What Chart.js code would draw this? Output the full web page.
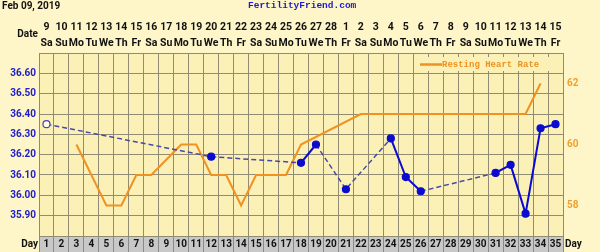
<!DOCTYPE html>
<html><head><meta charset="utf-8">
<script src="https://cdn.jsdelivr.net/npm/chart.js@4.4.1/dist/chart.umd.min.js"></script>
<style>html,body{margin:0;padding:0;background:#fef6c9;}#wrap{width:600px;height:252px;position:relative;}canvas{display:block;}</style>
</head><body><div id="wrap"><canvas id="c" width="600" height="252" style="width:600px;height:252px"></canvas></div>
<script>
const dayNumbers = ['1','2','3','4','5','6','7','8','9','10','11','12','13','14','15','16','17','18','19','20','21','22','23','24','25','26','27','28','29','30','31','32','33','34','35'];
const dates = ['9','10','11','12','13','14','15','16','17','18','19','20','21','22','23','24','25','26','27','28','1','2','3','4','5','6','7','8','9','10','11','12','13','14','15'];
const weekdays = ['Sa','Su','Mo','Tu','We','Th','Fr','Sa','Su','Mo','Tu','We','Th','Fr','Sa','Su','Mo','Tu','We','Th','Fr','Sa','Su','Mo','Tu','We','Th','Fr','Sa','Su','Mo','Tu','We','Th','Fr'];
const temperature = [36.35,null,null,null,null,null,null,null,null,null,null,36.19,null,null,null,null,null,36.16,36.25,null,36.03,null,null,36.28,36.09,36.02,null,null,null,null,36.11,36.15,35.91,36.33,36.35];
const restingHeartRate = [null,null,60,59,58,58,59,59,null,60,60,59,59,58,59,59,59,60,null,null,null,61,61,61,61,61,61,61,61,61,61,61,61,62,null];
const tempLabelTicks = [35.90,36.00,36.10,36.20,36.30,36.40,36.50,36.60];
const hrTicks = [58,60,62];
const chartTitle = 'Feb 09, 2019';
const siteName = 'FertilityFriend.com';
const legendLabel = 'Resting Heart Rate';

const OUTER_BG = '#fef6c9';
const PLOT_BG = '#fbf0b6';
const GRID = '#928b73';
const ORANGE = '#ef9222';
const BLUE = '#0a0ad0';
const NAVY = '#4a4aa6';

const decor = {
  id: 'decor',
  beforeDraw(chart) {
    const {ctx, chartArea: a} = chart;
    ctx.save();
    ctx.fillStyle = OUTER_BG;
    ctx.fillRect(0, 0, chart.width, chart.height);
    ctx.fillStyle = PLOT_BG;
    ctx.fillRect(a.left, a.top, a.right - a.left, a.bottom - a.top);
    ctx.fillStyle = '#c8c8c8';
    ctx.fillRect(a.left, a.bottom, a.right - a.left, chart.height - a.bottom);
    ctx.restore();
  },
  beforeDatasetsDraw(chart) {
    const {ctx, chartArea: a} = chart;
    ctx.save();
    const bx = a.right - 148, by = a.top + 4, bw = 142, bh = 14;
    ctx.fillStyle = PLOT_BG;
    ctx.fillRect(bx, by, bw, bh);
    ctx.strokeStyle = ORANGE;
    ctx.lineWidth = 2.5;
    ctx.beginPath();
    ctx.moveTo(bx + 5, by + 7.5);
    ctx.lineTo(bx + 27, by + 7.5);
    ctx.stroke();
    ctx.fillStyle = ORANGE;
    ctx.font = 'bold 9px "Liberation Mono"';
    ctx.textBaseline = 'middle';
    ctx.textAlign = 'left';
    ctx.fillText(legendLabel, bx + 27, by + 7.5);
    ctx.restore();
  },
  afterDraw(chart) {
    const {ctx, chartArea: a} = chart;
    ctx.save();
    ctx.textBaseline = 'middle';
    ctx.fillStyle = '#111';
    ctx.font = 'bold 10px Roboto';
    ctx.textAlign = 'left';
    ctx.fillText(chartTitle, 2, 6);
    ctx.fillStyle = '#1a1ad0';
    ctx.font = 'bold 9.5px "Liberation Mono"';
    ctx.fillText(siteName, 248, 6);
    ctx.fillStyle = '#111';
    ctx.font = 'bold 10px Roboto';
    ctx.textAlign = 'right';
    ctx.fillText('Date', 38, 34);
    ctx.fillText('Day', 38, 244);
    ctx.textAlign = 'left';
    ctx.fillText('Day', a.right + 2, 244);
    ctx.restore();
  }
};

const gapped = c => (c.p0.skip || c.p1.skip);

new Chart(document.getElementById('c'), {
  type: 'line',
  data: {
    labels: dayNumbers,
    datasets: [
      {
        label: 'Temperature',
        data: temperature,
        yAxisID: 'y',
        xAxisID: 'x',
        borderColor: BLUE,
        borderWidth: 2,
        spanGaps: true,
        tension: 0,
        pointRadius: 3.5,
        pointHoverRadius: 3.5,
        pointBorderWidth: 1.2,
        pointBackgroundColor: temperature.map((v, i) => i === 0 ? '#fffbe6' : BLUE),
        pointBorderColor: temperature.map((v, i) => i === 0 ? NAVY : BLUE),
        segment: {
          borderDash: c => gapped(c) ? [5, 3] : [],
          borderColor: c => gapped(c) ? NAVY : BLUE,
          borderWidth: c => gapped(c) ? 1.5 : 2
        }
      },
      {
        label: legendLabel,
        data: restingHeartRate,
        yAxisID: 'y2',
        xAxisID: 'x',
        borderColor: ORANGE,
        borderWidth: 2,
        spanGaps: true,
        tension: 0,
        pointRadius: 0,
        borderJoinStyle: 'miter'
      }
    ]
  },
  options: {
    responsive: false,
    animation: false,
    devicePixelRatio: 1,
    layout: {padding: 0},
    plugins: {legend: {display: false}, tooltip: {enabled: false}, title: {display: false}},
    scales: {
      x: {
        type: 'category',
        position: 'bottom',
        offset: true,
        grid: {offset: true, color: GRID, tickColor: '#8a8a8a', tickLength: 16, lineWidth: 1},
        border: {display: true, color: GRID},
        ticks: {autoSkip: false, maxRotation: 0, minRotation: 0, padding: -14, color: '#111', font: {family: 'Roboto', weight: 'bold', size: 10, lineHeight: '12px'}},
        afterFit: s => { s.height = 16; }
      },
      xTop: {
        type: 'category',
        position: 'top',
        labels: dates.map((d, i) => [d, weekdays[i]]),
        offset: true,
        grid: {offset: true, drawOnChartArea: false, drawTicks: false},
        border: {display: true, color: GRID},
        ticks: {autoSkip: false, maxRotation: 0, minRotation: 0, padding: 2, color: '#111', font: {family: 'Roboto', weight: 'bold', size: 10.5, lineHeight: '16px'}},
        afterFit: s => { s.height = 53; }
      },
      y: {
        position: 'left',
        min: 35.8,
        max: 36.7,
        grid: {color: GRID, drawTicks: false},
        border: {display: true, color: GRID},
        ticks: {
          stepSize: 0.05,
          padding: 3,
          color: '#2020c8',
          font: {family: 'Roboto', weight: 'bold', size: 10},
          callback: v => {
            const r = Math.round(v * 100) / 100;
            return tempLabelTicks.some(t => Math.abs(t - r) < 1e-6) ? r.toFixed(2) : '';
          }
        },
        afterFit: s => { s.width = 39; }
      },
      y2: {
        position: 'right',
        min: 57,
        max: 63,
        grid: {drawOnChartArea: false, drawTicks: false},
        border: {display: true, color: GRID},
        afterBuildTicks: s => { s.ticks = hrTicks.map(v => ({value: v})); },
        ticks: {padding: 4, color: '#f0a030', font: {family: 'Roboto', weight: 'bold', size: 10}},
        afterFit: s => { s.width = 37; }
      }
    }
  },
  plugins: [decor]
});
</script></body></html>
